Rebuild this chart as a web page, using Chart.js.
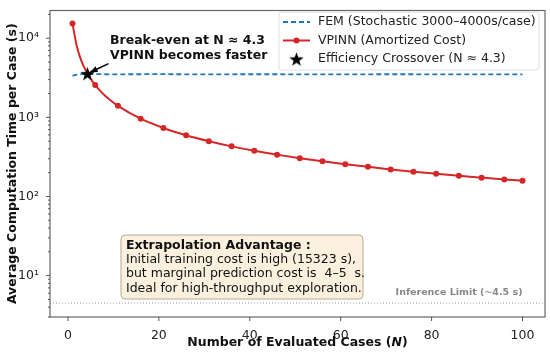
<!DOCTYPE html>
<html>
<head>
<meta charset="utf-8">
<script src="https://cdn.jsdelivr.net/npm/chart.js@4.4.0/dist/chart.umd.min.js"></script>
<style>
  html, body { margin: 0; padding: 0; background: #fff; }
  #wrap { width: 550px; height: 354px; }
</style>
</head>
<body>
<div id="wrap"><canvas id="costChart" width="550" height="354"></canvas></div>
<script>
// ----- data -----
const vpinnN    = [1, 2, 3, 4, 5, 6, 7, 8, 9, 11, 16, 21, 26, 31, 36, 41, 46, 51, 56, 61, 66, 71, 76, 81, 86, 91, 96, 100];
const vpinnCost = [15327, 7666, 5112, 3835, 3069, 2558, 2193, 1920, 1707, 1397, 962, 734, 594, 499, 430, 378, 338, 305, 278, 256, 237, 220, 206, 194, 183, 173, 164, 158];
const markerN   = [1, 6, 11, 16, 21, 26, 31, 36, 41, 46, 51, 56, 61, 66, 71, 76, 81, 86, 91, 96, 100];

const femN    = [1, 2, 3, 5, 10, 20, 30, 40, 50, 60, 70, 80, 90, 100];
const femCost = [3340, 3460, 3510, 3520, 3500, 3510, 3495, 3505, 3500, 3490, 3505, 3500, 3495, 3500];

const crossoverN = 4.3;
const crossoverCost = 3568;
const inferenceLimit = 4.5;

const xTicks = [0, 20, 40, 60, 80, 100];
const yTicks = [10, 100, 1000, 10000];
const yTickLabels = ["10\u00B9", "10\u00B2", "10\u00B3", "10\u2074"];

const FONT = "'DejaVu Sans', sans-serif";
const RED = "#d62728";
const BLUE = "#1f77b4";

// filled 5-point star for the crossover marker
function makeStar(size) {
    const c = document.createElement("canvas");
    c.width = size; c.height = size;
    const g = c.getContext("2d");
    const r = size / 2, ri = r * 0.4;
    g.beginPath();
    for (let i = 0; i < 10; i++) {
        const rad = i % 2 ? ri : r;
        const a = -Math.PI / 2 + i * Math.PI / 5;
        const px = r + rad * Math.cos(a), py = r + rad * Math.sin(a) + size * 0.05;
        i ? g.lineTo(px, py) : g.moveTo(px, py);
    }
    g.closePath();
    g.fillStyle = "#000";
    g.fill();
    return c;
}
const starImg = makeStar(15);

// ----- extras drawn on top (frame, ticks, titles, text boxes) -----
const decorPlugin = {
    id: "decor",
    beforeDatasetsDraw(chart) {
        const { ctx, chartArea: a, scales } = chart;
        const yl = scales.y.getPixelForValue(inferenceLimit);
        ctx.save();
        ctx.strokeStyle = "#999";
        ctx.lineWidth = 1;
        ctx.setLineDash([1, 2]);
        ctx.beginPath();
        ctx.moveTo(a.left, yl);
        ctx.lineTo(a.right, yl);
        ctx.stroke();
        ctx.restore();
    },
    afterDatasetsDraw(chart) {
        const { ctx, chartArea: a, scales } = chart;
        const x = scales.x, y = scales.y;
        ctx.save();

        // frame
        ctx.strokeStyle = "#666";
        ctx.lineWidth = 1.2;
        ctx.strokeRect(a.left, a.top, a.right - a.left, a.bottom - a.top);

        // tick marks
        ctx.lineWidth = 1;
        ctx.strokeStyle = "#555";
        ctx.beginPath();
        xTicks.forEach(v => {
            const px = x.getPixelForValue(v);
            ctx.moveTo(px, a.bottom); ctx.lineTo(px, a.bottom + 4);
        });
        for (let d = 1; d <= 10000; d *= 10) {
            for (let m = 1; m < 10; m++) {
                const v = d * m;
                if (v < y.min || v > y.max) continue;
                const py = y.getPixelForValue(v);
                ctx.moveTo(a.left, py); ctx.lineTo(a.left - (m === 1 ? 4 : 2), py);
            }
        }
        ctx.stroke();

        // inference limit label
        ctx.fillStyle = "#888";
        ctx.font = "bold 9.5px " + FONT;
        ctx.textAlign = "right";
        ctx.textBaseline = "middle";
        ctx.fillText("Inference Limit (~4.5 s)", x.getPixelForValue(100), y.getPixelForValue(inferenceLimit) - 11);

        // break-even annotation + arrow
        const sx = x.getPixelForValue(crossoverN), sy = y.getPixelForValue(crossoverCost);
        ctx.fillStyle = "#111";
        ctx.font = "bold 12.5px " + FONT;
        ctx.textAlign = "left";
        ctx.fillText("Break-even at N \u2248 4.3", a.left + 60, a.top + 30);
        ctx.fillText("VPINN becomes faster", a.left + 60, a.top + 45);
        const tx = sx + 21, ty = sy - 10;
        const ang = Math.atan2(sy - ty, sx - tx);
        const ex = sx - Math.cos(ang) * 3, ey = sy - Math.sin(ang) * 3;
        ctx.strokeStyle = "#000";
        ctx.lineWidth = 1.6;
        ctx.beginPath(); ctx.moveTo(tx, ty); ctx.lineTo(ex, ey); ctx.stroke();
        ctx.beginPath();
        ctx.moveTo(ex, ey);
        ctx.lineTo(ex - 8 * Math.cos(ang - 0.4), ey - 8 * Math.sin(ang - 0.4));
        ctx.lineTo(ex - 8 * Math.cos(ang + 0.4), ey - 8 * Math.sin(ang + 0.4));
        ctx.closePath();
        ctx.fillStyle = "#000";
        ctx.fill();

        // extrapolation text box
        const bx = 121, by = 235, bw = 242, bh = 64;
        ctx.beginPath();
        ctx.roundRect(bx, by, bw, bh, 4);
        ctx.fillStyle = "rgba(245,222,179,0.45)";
        ctx.fill();
        ctx.strokeStyle = "#b5aa98";
        ctx.lineWidth = 1;
        ctx.stroke();
        ctx.fillStyle = "#111";
        ctx.font = "bold 12.5px " + FONT;
        ctx.fillText("Extrapolation Advantage :", bx + 5, by + 11);
        ctx.font = "12.5px " + FONT;
        ctx.fillText("Initial training cost is high (15323 s),", bx + 5, by + 25);
        ctx.fillText("but marginal prediction cost is  4\u20135  s.", bx + 5, by + 39);
        ctx.fillText("Ideal for high-throughput exploration.", bx + 5, by + 53.5);

        // legend
        const lx = 279, ly = 12, lw = 260, lh = 58;
        ctx.beginPath();
        ctx.roundRect(lx, ly, lw, lh, 3);
        ctx.fillStyle = "rgba(255,255,255,0.85)";
        ctx.fill();
        ctx.strokeStyle = "#ddd";
        ctx.stroke();
        const rows = [ly + 10, ly + 28.5, ly + 47];
        ctx.lineWidth = 2;
        ctx.strokeStyle = BLUE;
        ctx.setLineDash([5, 3]);
        ctx.beginPath(); ctx.moveTo(lx + 4, rows[0]); ctx.lineTo(lx + 31, rows[0]); ctx.stroke();
        ctx.setLineDash([]);
        ctx.strokeStyle = RED;
        ctx.beginPath(); ctx.moveTo(lx + 4, rows[1]); ctx.lineTo(lx + 31, rows[1]); ctx.stroke();
        ctx.fillStyle = RED;
        ctx.beginPath(); ctx.arc(lx + 17.5, rows[1], 3, 0, Math.PI * 2); ctx.fill();
        ctx.drawImage(starImg, lx + 10, rows[2] - 7.5);
        ctx.fillStyle = "#222";
        ctx.font = "12.5px " + FONT;
        ctx.fillText("FEM (Stochastic 3000\u20134000s/case)", lx + 39, rows[0]);
        ctx.fillText("VPINN (Amortized Cost)", lx + 39, rows[1]);
        ctx.fillText("Efficiency Crossover (N \u2248 4.3)", lx + 39, rows[2]);

        // axis titles
        ctx.fillStyle = "#111";
        ctx.textAlign = "left";
        const t1 = "Number of Evaluated Cases (", t2 = "N", t3 = ")";
        ctx.font = "bold 12.5px " + FONT;
        const w1 = ctx.measureText(t1).width, w3 = ctx.measureText(t3).width;
        ctx.font = "bold italic 12.5px " + FONT;
        const w2 = ctx.measureText(t2).width;
        let cx = (a.left + a.right) / 2 - (w1 + w2 + w3) / 2;
        const cy = 343;
        ctx.font = "bold 12.5px " + FONT; ctx.fillText(t1, cx, cy); cx += w1;
        ctx.font = "bold italic 12.5px " + FONT; ctx.fillText(t2, cx, cy); cx += w2;
        ctx.font = "bold 12.5px " + FONT; ctx.fillText(t3, cx, cy);

        ctx.translate(13, (a.top + a.bottom) / 2);
        ctx.rotate(-Math.PI / 2);
        ctx.textAlign = "center";
        ctx.fillText("Average Computation Time per Case (s)", 0, 0);
        ctx.restore();
    }
};

const ctx = document.getElementById("costChart").getContext("2d");
new Chart(ctx, {
    type: "line",
    data: {
        datasets: [
            {
                label: "FEM (Stochastic 3000\u20134000s/case)",
                data: femN.map((n, i) => ({ x: n, y: femCost[i] })),
                borderColor: BLUE,
                borderWidth: 1.8,
                borderDash: [5, 3],
                pointRadius: 0,
                cubicInterpolationMode: "monotone",
                order: 3
            },
            {
                label: "VPINN (Amortized Cost)",
                data: vpinnN.map((n, i) => ({ x: n, y: vpinnCost[i] })),
                borderColor: RED,
                backgroundColor: RED,
                borderWidth: 2,
                pointRadius: c => markerN.includes(vpinnN[c.dataIndex]) ? 3 : 0,
                pointBorderWidth: 0,
                cubicInterpolationMode: "monotone",
                order: 2
            },
            {
                label: "Efficiency Crossover (N \u2248 4.3)",
                data: [{ x: crossoverN, y: crossoverCost }],
                showLine: false,
                pointStyle: starImg,
                order: 1
            }
        ]
    },
    options: {
        responsive: false,
        animation: false,
        layout: { padding: { top: 7, right: 5, left: 0, bottom: 0 } },
        plugins: { legend: { display: false }, tooltip: { enabled: false } },
        scales: {
            x: {
                type: "linear",
                min: -3.95,
                max: 104.95,
                afterBuildTicks: s => { s.ticks = xTicks.map(v => ({ value: v })); },
                afterFit: s => { s.height = 37; },
                grid: { display: false },
                border: { display: false },
                ticks: { font: { family: FONT, size: 12.5 }, color: "#222", padding: 3, maxRotation: 0 }
            },
            y: {
                type: "logarithmic",
                min: 3,
                max: 22400,
                afterBuildTicks: s => { s.ticks = yTicks.map(v => ({ value: v })); },
                afterFit: s => { s.width = 50; },
                grid: { display: false },
                border: { display: false },
                ticks: {
                    font: { family: FONT, size: 12.5 },
                    color: "#222",
                    padding: 3,
                    callback: v => yTickLabels[yTicks.indexOf(v)] ?? ""
                }
            }
        }
    },
    plugins: [decorPlugin]
});
</script>
</body>
</html>
